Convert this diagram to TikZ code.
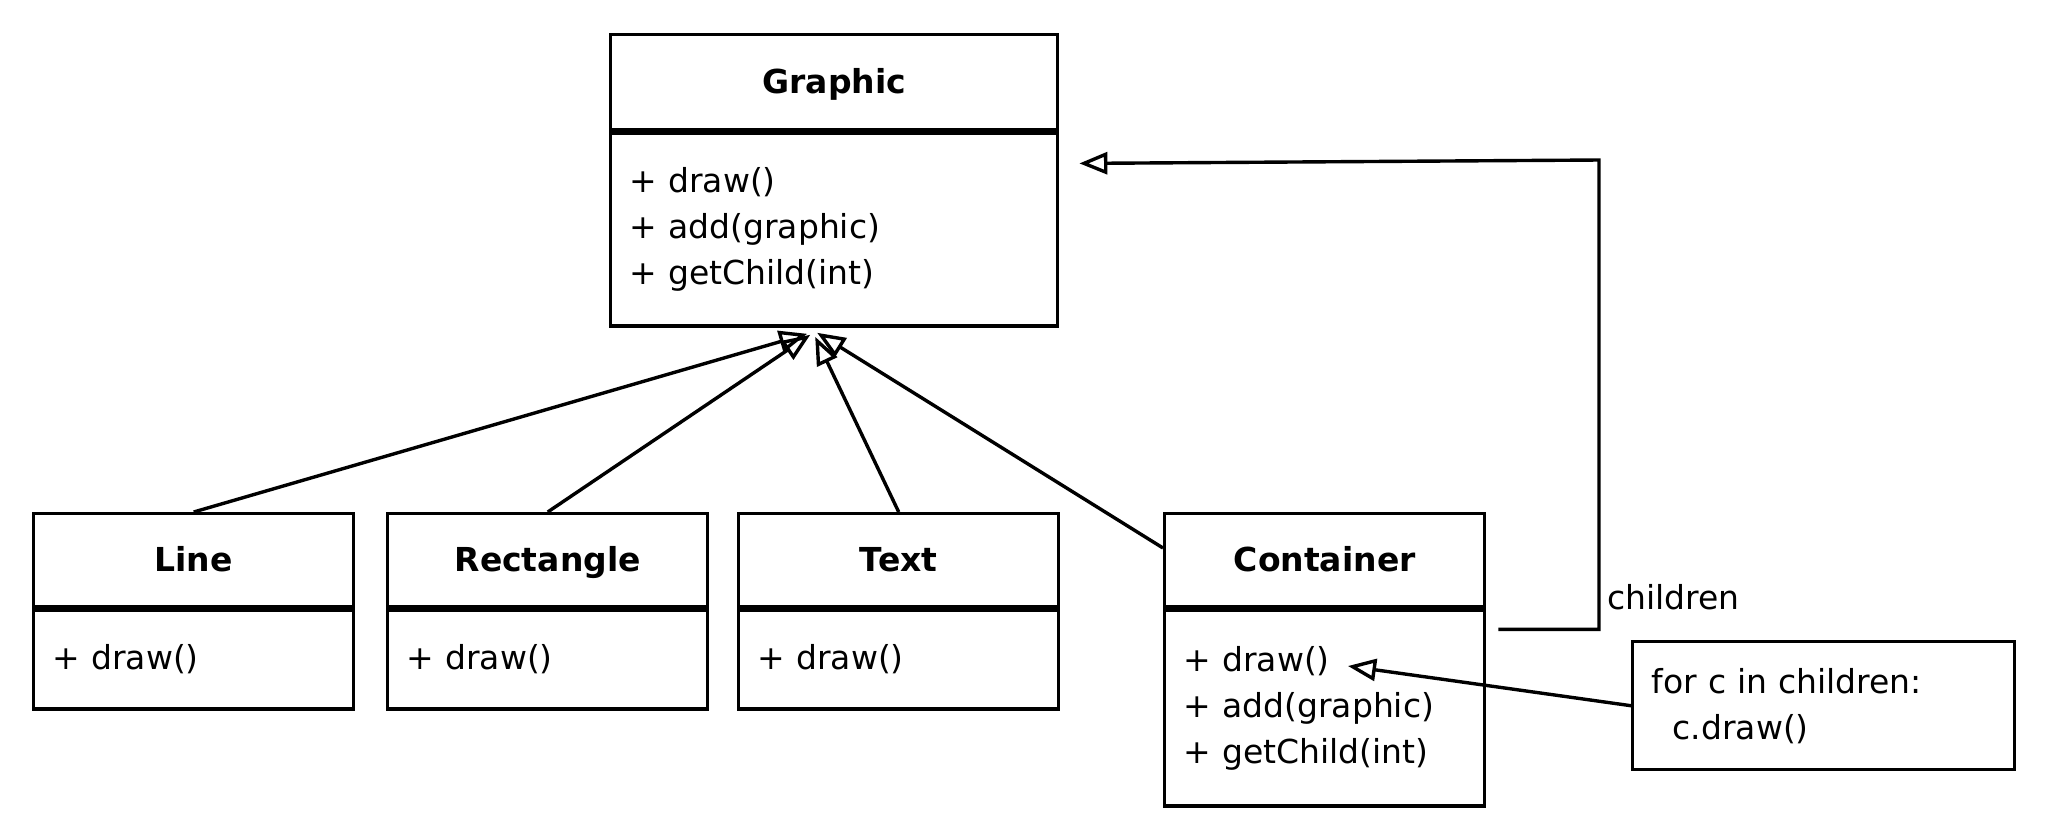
\documentclass[tikz,border=0pt]{standalone}
\usepackage{fontspec}
\setmainfont{DejaVu Sans}
\usetikzlibrary{shapes, arrows.meta, calc, positioning}
\tikzstyle{classHead} = [rectangle, 
                         minimum width=160pt, 
                         minimum height=46.5pt, 
                         text centered, 
                         text height=13pt,
                         text depth=1.5pt,
                         inner sep=0pt,
                         draw=black, 
                         line width=1.7pt,
                         font=\fontsize{16.5pt}{23pt}\selectfont\bfseries]
\tikzstyle{classBody} = [rectangle, 
                         text width=141pt, 
                         minimum height=49.5pt, 
                         align=left, 
                         inner xsep=9.5pt,
                         inner ysep=0pt,
                         draw=black, 
                         line width=1.7pt]
\tikzstyle{noteBox}   = [rectangle,
                         text width=172pt, 
                         minimum height=64pt, 
                         align=left,
                         inner xsep=9.5pt,
                         inner ysep=0pt,
                         draw=black, 
                         line width=1.7pt]
\tikzstyle{openArrow} = [line width=1.7pt, -{Triangle[open, length=14pt, width=11pt]}]

\begin{document}
\begin{tikzpicture}[x=0.5pt, y=-0.5pt, font=\fontsize{16.5pt}{23pt}\selectfont]
\path [fill=white, use as bounding box] (0,0) rectangle (2048,837);

\node [classHead, anchor=north west, minimum width=223.5pt, minimum height=47.5pt] (GraphicHead) at (609,33) {Graphic};
\node [classBody, anchor=north, text width=204.5pt, minimum height=96.5pt] (GraphicBody) at (GraphicHead.south) {
    + draw() \\ + add(graphic) \\ + getChild(int)
    };

\node [classHead, anchor=north west] (LineHead)      at (32,512) {Line};
\node [classHead, anchor=north west] (RectangleHead) at ([shift={(354,0)}] LineHead.north west) {Rectangle};
\node [classHead, anchor=north west] (TextHead)      at ([shift={(351,0)}] RectangleHead.north west) {Text};
\node [classHead, anchor=north west] (ContainerHead) at ([shift={(426,0)}] TextHead.north west) {Container};

\node [classBody, anchor=north] (LineBody)      at (LineHead.south) {+ draw()};
\node [classBody, anchor=north] (RectangleBody) at (RectangleHead.south) {+ draw()};
\node [classBody, anchor=north] (TextBody)      at (TextHead.south) {+ draw()};
\node [classBody, anchor=north, minimum height=98pt] (ContainerBody) at (ContainerHead.south) {
    + draw() \\ + add(graphic) \\ + getChild(int)
    };

\node [noteBox, anchor=north west] (Note) at (1631,640) {
    for c in children: \\ \hspace*{10.5pt}c.draw()
    };

% tips under Graphic
\coordinate (lineTip)      at ([shift={(-27,6)}] GraphicBody.south);
\coordinate (rectangleTip) at ([shift={(-24,7)}] GraphicBody.south);
\coordinate (textTip)      at ([shift={(-19,9)}] GraphicBody.south);
\coordinate (containerTip) at ([shift={(-17,5)}] GraphicBody.south);

\draw [openArrow] (LineHead.north) -- (lineTip);
\draw [openArrow] (RectangleHead.north) -- (rectangleTip);
\draw [openArrow] (TextHead.north) -- (textTip);
\draw [openArrow] ([shift={(0,36)}] ContainerHead.north west) -- (containerTip);

% children link
\coordinate (childStart)  at ([shift={(12,21)}] ContainerBody.north east);
\coordinate (childCorner) at (1599,160);
\coordinate (childEnd)    at ([shift={(20,32)}] GraphicBody.north east);
\draw [openArrow] (childStart) -| (childCorner) -- (childEnd);
\node [anchor=west, inner sep=0pt] (childLabel) at (1607,597) {children};

\coordinate (drawTip) at (1348,666);
\draw [openArrow] (Note.west) -- (drawTip);

\end{tikzpicture}
\end{document}
